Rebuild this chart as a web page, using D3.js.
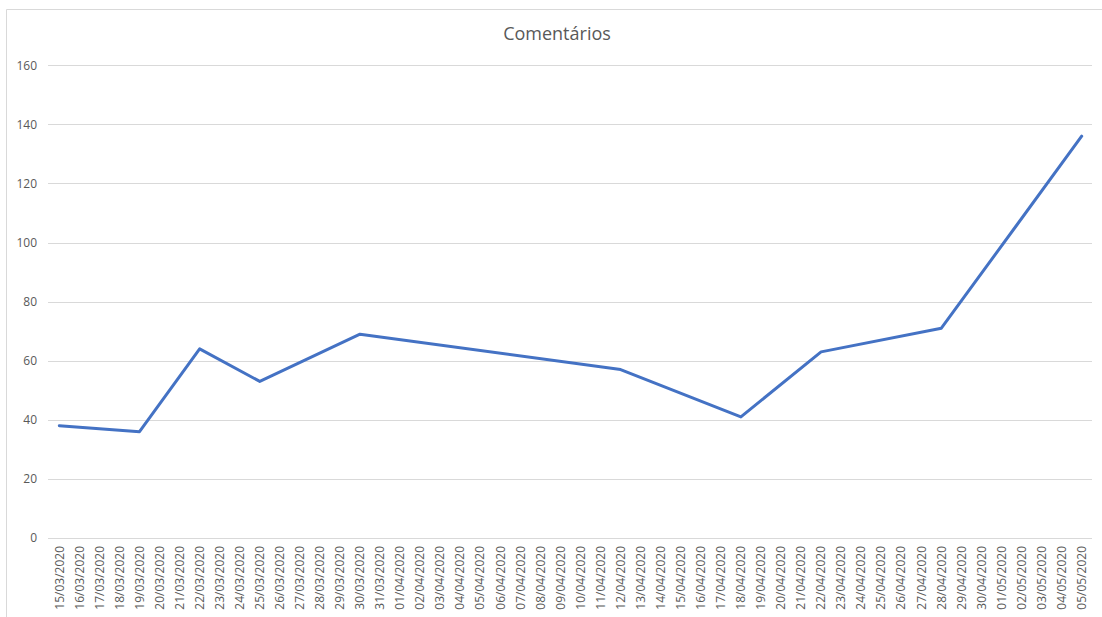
<!DOCTYPE html>
<html>
<head>
<meta charset="utf-8">
<script src="https://cdn.jsdelivr.net/npm/d3@7"></script>
<style>
  html, body { margin: 0; padding: 0; background: #ffffff; }
  svg { display: block; }
</style>
</head>
<body>
<svg id="chart" width="1102" height="617"></svg>
<script>
// Category axis: one label per day
const dates = [
  "15/03/2020","16/03/2020","17/03/2020","18/03/2020","19/03/2020","20/03/2020",
  "21/03/2020","22/03/2020","23/03/2020","24/03/2020","25/03/2020","26/03/2020",
  "27/03/2020","28/03/2020","29/03/2020","30/03/2020","31/03/2020","01/04/2020",
  "02/04/2020","03/04/2020","04/04/2020","05/04/2020","06/04/2020","07/04/2020",
  "08/04/2020","09/04/2020","10/04/2020","11/04/2020","12/04/2020","13/04/2020",
  "14/04/2020","15/04/2020","16/04/2020","17/04/2020","18/04/2020","19/04/2020",
  "20/04/2020","21/04/2020","22/04/2020","23/04/2020","24/04/2020","25/04/2020",
  "26/04/2020","27/04/2020","28/04/2020","29/04/2020","30/04/2020","01/05/2020",
  "02/05/2020","03/05/2020","04/05/2020","05/05/2020"
];

// Days with a recorded count (others are empty and the line bridges them)
const recordedDates = [
  "15/03/2020","19/03/2020","22/03/2020","25/03/2020","30/03/2020",
  "12/04/2020","18/04/2020","22/04/2020","28/04/2020","05/05/2020"
];
const comentarios = [38, 36, 64, 53, 69, 57, 41, 63, 71, 136];

const yTicks = [0, 20, 40, 60, 80, 100, 120, 140, 160];
const chartTitle = "Comentários";

const svg = d3.select("#chart");
const font = "'Open Sans', 'Noto Sans', sans-serif";

// Chart frame (top and left edges visible)
svg.append("path")
  .attr("d", "M6.5,617 V9.5 H1102")
  .attr("fill", "none")
  .attr("stroke", "#d9d9d9")
  .attr("stroke-width", 1);

const x = d3.scaleBand()
  .domain(dates)
  .range([49.3, 1091.7])
  .padding(0);

const y = d3.scaleLinear()
  .domain([0, 160])
  .range([538, 65.3]);

const cx = d => x(d) + x.bandwidth() / 2;

// Horizontal gridlines
svg.append("g")
  .selectAll("line")
  .data(yTicks)
  .join("line")
  .attr("x1", 48)
  .attr("x2", 1092)
  .attr("y1", d => Math.round(y(d)) + 0.5)
  .attr("y2", d => Math.round(y(d)) + 0.5)
  .attr("stroke", "#d9d9d9")
  .attr("stroke-width", 1);

// Value axis labels
const yAxis = d3.axisLeft(y).tickValues(yTicks).tickSize(0).tickPadding(0);
const yG = svg.append("g")
  .attr("transform", "translate(37,0)")
  .call(yAxis);
yG.select(".domain").remove();
yG.selectAll("text")
  .attr("fill", "#595959")
  .style("font-family", font)
  .style("font-size", "12px");

// Category axis labels, rotated
const xAxis = d3.axisBottom(x).tickSize(0).tickPadding(0);
const xG = svg.append("g")
  .attr("transform", "translate(0,538)")
  .call(xAxis);
xG.select(".domain").remove();
xG.selectAll("text")
  .attr("fill", "#595959")
  .style("font-family", font)
  .style("font-size", "12px")
  .attr("text-anchor", "end")
  .attr("transform", "rotate(-90)")
  .attr("x", -8)
  .attr("y", 0)
  .attr("dy", "0.35em");

// Series line
const points = recordedDates.map((d, i) => ({ date: d, value: comentarios[i] }));
const line = d3.line()
  .x(d => cx(d.date))
  .y(d => y(d.value));

svg.append("path")
  .datum(points)
  .attr("d", line)
  .attr("fill", "none")
  .attr("stroke", "#4472c4")
  .attr("stroke-width", 3)
  .attr("stroke-linejoin", "round")
  .attr("stroke-linecap", "round");

// Title
svg.append("text")
  .attr("x", 557)
  .attr("y", 40)
  .attr("text-anchor", "middle")
  .attr("fill", "#595959")
  .style("font-family", font)
  .style("font-size", "18px")
  .text(chartTitle);
</script>
</body>
</html>
